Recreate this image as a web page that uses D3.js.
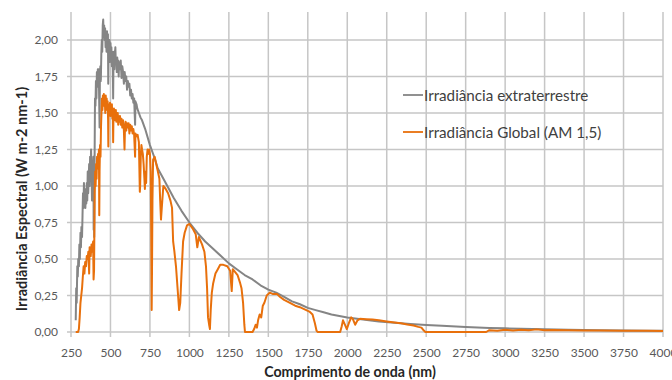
<!DOCTYPE html>
<html lang="pt">
<head>
<meta charset="UTF-8">
<title>Irradiância Espectral</title>
<script src="https://cdn.jsdelivr.net/npm/d3@7"></script>
<style>
  body { margin: 0; background: #fff; }
  text { font-family: Lato, "Noto Sans", sans-serif; }
</style>
</head>
<body>
<script>
// tick values
var xTicks = [250, 500, 750, 1000, 1250, 1500, 1750, 2000, 2250, 2500, 2750, 3000, 3250, 3500, 3750, 4000];
var yTicks = [0, 0.25, 0.5, 0.75, 1, 1.25, 1.5, 1.75, 2];

var seriesNames = ["Irradiância extraterrestre", "Irradiância Global (AM 1,5)"];

// extraterrestrial spectrum (nm, W m-2 nm-1)
var extraWl = [280, 283, 286, 290, 293, 296, 300, 303, 306, 310, 313, 316, 320, 323, 326, 329, 332, 335, 338, 341,
  344, 347, 350, 353, 356, 359, 362, 365, 368, 371, 374, 377, 380, 383, 386, 389, 392, 393.5, 396, 397,
  399, 402, 405, 408, 411, 414, 417, 420, 423, 426, 429, 431, 433, 436, 439, 442, 445, 448, 451, 454,
  457, 460, 463, 466, 469, 472, 475, 478, 481, 484, 486, 488, 491, 494, 497, 500, 503, 506, 509, 512,
  515, 517, 519, 522, 525, 528, 531, 534, 537, 540, 543, 546, 549, 552, 555, 560, 565, 570, 575, 580,
  585, 590, 595, 600, 605, 610, 615, 620, 625, 630, 635, 640, 645, 650, 656, 658, 665, 670, 680, 690,
  700, 720, 750, 780, 800, 850, 900, 950, 1000, 1050, 1100, 1150, 1200, 1250, 1300, 1350, 1400, 1450, 1500, 1550,
  1600, 1650, 1700, 1750, 1800, 1850, 1900, 1950, 2000, 2100, 2200, 2300, 2400, 2500, 2600, 2750, 2900, 3000, 3100, 3250,
  3400, 3500, 3600, 3750, 3900, 4000];
var extraVal = [0.08, 0.3, 0.2, 0.45, 0.38, 0.5, 0.45, 0.6, 0.5, 0.68, 0.58, 0.72, 0.65, 0.8, 0.95, 0.85, 1.02, 0.9, 0.98, 0.85,
  0.95, 0.88, 1.02, 0.9, 1.1, 0.95, 1.05, 1.15, 1.0, 1.2, 1.05, 1.25, 1.12, 0.9, 1.15, 1.05, 1.2, 0.7, 0.8, 0.65,
  1.1, 1.6, 1.55, 1.72, 1.6, 1.78, 1.68, 1.8, 1.72, 1.8, 1.55, 1.4, 1.75, 1.82, 1.72, 1.9, 2.0, 1.92, 2.1, 2.14,
  2.02, 2.1, 2.0, 2.08, 1.95, 2.05, 1.92, 2.06, 1.98, 2.04, 1.7, 1.98, 1.9, 2.0, 1.85, 1.98, 1.9, 1.95, 1.82, 1.92,
  1.8, 1.6, 1.85, 1.92, 1.8, 1.9, 1.95, 1.84, 1.88, 1.78, 1.88, 1.82, 1.86, 1.75, 1.85, 1.8, 1.86, 1.74, 1.82, 1.78,
  1.7, 1.78, 1.72, 1.75, 1.66, 1.72, 1.68, 1.7, 1.62, 1.66, 1.6, 1.63, 1.57, 1.6, 1.42, 1.58, 1.56, 1.53, 1.5, 1.47,
  1.45, 1.39, 1.28, 1.19, 1.12, 1.02, 0.92, 0.83, 0.75, 0.68, 0.62, 0.57, 0.52, 0.47, 0.43, 0.39, 0.36, 0.32, 0.29, 0.27,
  0.24, 0.21, 0.19, 0.165, 0.15, 0.135, 0.12, 0.11, 0.1, 0.085, 0.072, 0.063, 0.055, 0.048, 0.042, 0.035, 0.028, 0.025, 0.022, 0.018,
  0.015, 0.013, 0.012, 0.01, 0.009, 0.008];

// global AM 1.5 spectrum
var globalWl = [280, 295, 300, 305, 310, 315, 320, 325, 330, 335, 340, 345, 350, 355, 360, 365, 368, 375, 380, 385,
  390, 393, 396, 400, 403, 406, 409, 412, 415, 418, 421, 424, 427, 429, 431, 434, 437, 440, 443, 446,
  449, 452, 455, 458, 461, 464, 467, 470, 473, 476, 479, 482, 485, 486.5, 488, 491, 494, 497, 500, 503,
  506, 509, 512, 515, 517, 519, 522, 525, 528, 531, 534, 537, 540, 543, 546, 549, 552, 556, 560, 565,
  570, 575, 580, 585, 589, 592, 596, 600, 605, 610, 615, 620, 625, 630, 635, 640, 645, 650, 656, 658,
  665, 672, 680, 686, 688, 692, 696, 700, 705, 710, 715, 718, 722, 726, 730, 735, 740, 745, 750, 755,
  758, 761, 763, 766, 770, 780, 790, 800, 810, 815, 820, 825, 835, 850, 865, 880, 890, 897, 905, 915,
  925, 935, 942, 950, 960, 970, 985, 1000, 1020, 1040, 1050, 1060, 1080, 1095, 1105, 1112, 1118, 1125, 1130, 1135,
  1142, 1150, 1165, 1180, 1195, 1215, 1240, 1258, 1268, 1275, 1290, 1305, 1320, 1330, 1340, 1348, 1352, 1400, 1410, 1420,
  1428, 1435, 1445, 1455, 1465, 1475, 1490, 1510, 1530, 1555, 1575, 1600, 1637, 1670, 1700, 1730, 1760, 1780, 1795, 1805,
  1812, 1955, 1965, 1973, 1985, 1997, 2010, 2025, 2035, 2050, 2065, 2080, 2120, 2160, 2200, 2250, 2300, 2340, 2380, 2420,
  2450, 2470, 2485, 2495, 2880, 2900, 2950, 3000, 3050, 3100, 3150, 3200, 3250, 3300, 3400, 3500, 3600, 3750, 3900, 4000];
var globalVal = [0, 0, 0.02, 0.1, 0.2, 0.25, 0.3, 0.38, 0.45, 0.4, 0.48, 0.45, 0.52, 0.5, 0.55, 0.4, 0.58, 0.52, 0.6, 0.55,
  0.62, 0.36, 0.42, 0.95, 1.1, 1.0, 1.15, 1.05, 1.2, 1.12, 1.22, 1.15, 1.25, 0.8, 1.1, 1.28, 1.2, 1.4, 1.5, 1.6,
  1.52, 1.62, 1.55, 1.63, 1.58, 1.6, 1.5, 1.62, 1.55, 1.6, 1.52, 1.58, 1.45, 1.27, 1.5, 1.56, 1.5, 1.57, 1.48, 1.55,
  1.5, 1.56, 1.46, 1.52, 1.3, 1.48, 1.53, 1.45, 1.52, 1.48, 1.52, 1.44, 1.5, 1.45, 1.5, 1.42, 1.48, 1.44, 1.48, 1.42,
  1.46, 1.4, 1.45, 1.38, 1.25, 1.4, 1.44, 1.38, 1.43, 1.4, 1.43, 1.36, 1.42, 1.38, 1.41, 1.36, 1.39, 1.35, 1.2, 1.36,
  1.34, 1.35, 1.3, 0.96, 1.0, 1.2, 1.28, 1.25, 1.22, 1.15, 1.05, 0.98, 1.1, 1.02, 1.2, 1.25, 1.22, 1.25, 1.22, 1.1,
  0.7, 0.15, 0.4, 0.9, 1.18, 1.2, 1.15, 1.1, 1.05, 0.9, 0.77, 0.85, 1.0, 0.98, 0.95, 0.9, 0.85, 0.62, 0.55, 0.45,
  0.3, 0.15, 0.2, 0.4, 0.62, 0.68, 0.73, 0.74, 0.71, 0.67, 0.58, 0.65, 0.6, 0.55, 0.45, 0.3, 0.1, 0.05, 0.02, 0.15,
  0.27, 0.33, 0.4, 0.43, 0.46, 0.46, 0.45, 0.42, 0.28, 0.43, 0.41, 0.39, 0.34, 0.3, 0.2, 0.05, 0, 0, 0.02, 0.05,
  0.03, 0.08, 0.12, 0.1, 0.18, 0.2, 0.25, 0.27, 0.26, 0.26, 0.24, 0.22, 0.2, 0.18, 0.17, 0.155, 0.14, 0.12, 0.06, 0.01,
  0, 0, 0.04, 0.08, 0.05, 0.02, 0.06, 0.1, 0.09, 0.05, 0.08, 0.09, 0.088, 0.085, 0.08, 0.072, 0.065, 0.06, 0.052, 0.045,
  0.035, 0.03, 0.01, 0, 0, 0.012, 0.008, 0.015, 0.01, 0.016, 0.012, 0.018, 0.012, 0.014, 0.012, 0.011, 0.01, 0.009, 0.008, 0.007];

var width = 672, height = 380;
var plotLeft = 71, plotRight = 663, plotTop = 12, plotBottom = 332;
var gridColor = "#c6c6c6";

var svg = d3.select("body").append("svg")
    .attr("width", width)
    .attr("height", height);

var x = d3.scaleLinear().domain([250, 4000]).range([plotLeft, plotRight]);
var y = d3.scaleLinear().domain([0, 2]).range([plotBottom, 40]);

var pt = d3.formatLocale({ decimal: ",", thousands: ".", grouping: [3], currency: ["", ""] });
var fmtY = pt.format(".2f");

// gridlines
svg.append("g").selectAll("line")
    .data(yTicks)
    .enter().append("line")
    .attr("x1", plotLeft - 4).attr("x2", plotRight)
    .attr("y1", function (d) { return y(d); })
    .attr("y2", function (d) { return y(d); })
    .attr("stroke", gridColor).attr("stroke-width", 1.5);

svg.append("g").selectAll("line")
    .data(xTicks)
    .enter().append("line")
    .attr("y1", plotTop).attr("y2", plotBottom + 5)
    .attr("x1", function (d) { return x(d); })
    .attr("x2", function (d) { return x(d); })
    .attr("stroke", gridColor).attr("stroke-width", 1.5);

// axis labels
var gy = svg.append("g")
    .attr("transform", "translate(" + (plotLeft - 4) + ",0)")
    .call(d3.axisLeft(y).tickValues(yTicks).tickFormat(fmtY).tickSize(0).tickPadding(9));

var gx = svg.append("g")
    .attr("transform", "translate(0," + (plotBottom + 5) + ")")
    .call(d3.axisBottom(x).tickValues(xTicks).tickFormat(d3.format("d")).tickSize(0).tickPadding(11));

[gx, gy].forEach(function (g) {
  g.select(".domain").remove();
  g.selectAll(".tick line").remove();
  g.selectAll(".tick text").attr("fill", "#595959").style("font-size", "12px");
});

var line = d3.line()
    .x(function (d) { return x(d[0]); })
    .y(function (d) { return y(d[1]); });

var extra = extraWl.map(function (w, i) { return [w, extraVal[i]]; });
var glob = globalWl.map(function (w, i) { return [w, globalVal[i]]; });

svg.append("path")
    .datum(extra)
    .attr("fill", "none")
    .attr("stroke", "#858585")
    .attr("stroke-width", 2)
    .attr("stroke-linejoin", "round")
    .attr("d", line);

svg.append("path")
    .datum(glob)
    .attr("fill", "none")
    .attr("stroke", "#e8700c")
    .attr("stroke-width", 2)
    .attr("stroke-linejoin", "round")
    .attr("d", line);

// legend
var colors = ["#858585", "#e8700c"];
var lg = svg.append("g").attr("transform", "translate(403,95)");
seriesNames.forEach(function (name, i) {
  var row = lg.append("g").attr("transform", "translate(0," + (i * 37) + ")");
  row.append("line").attr("x1", 0).attr("x2", 20).attr("y1", 0).attr("y2", 0)
     .attr("stroke", colors[i]).attr("stroke-width", 1.8);
  row.append("text").attr("x", 21).attr("y", 5.5)
     .attr("fill", "#404040").style("font-size", "15.2px").text(name);
});

// axis titles
svg.append("text")
    .attr("x", 350).attr("y", 377)
    .attr("text-anchor", "middle")
    .attr("fill", "#262626")
    .style("font-size", "14.2px").style("font-weight", "bold")
    .text("Comprimento de onda (nm)");

svg.append("text")
    .attr("transform", "translate(27,199) rotate(-90)")
    .attr("text-anchor", "middle")
    .attr("fill", "#262626")
    .style("font-size", "14.5px").style("font-weight", "bold")
    .text("Irradiância Espectral (W m-2 nm-1)");
</script>
</body>
</html>
